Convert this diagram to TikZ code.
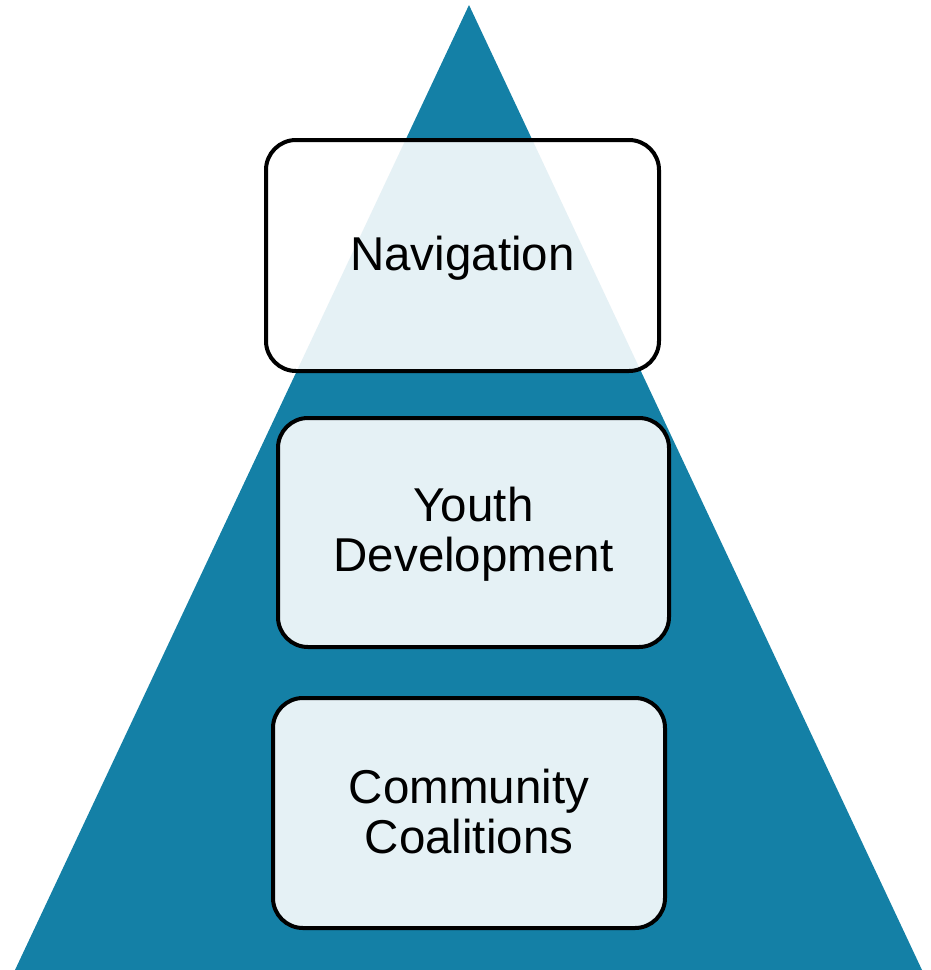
\documentclass[tikz,border=0pt]{standalone}
\usepackage{fontspec}
\setmainfont{Liberation Sans}
\definecolor{teal1}{HTML}{1480A6}
\begin{document}
\begin{tikzpicture}[x=1pt,y=-1pt,
  tierbox/.style={draw=black, line width=4pt, rounded corners=30pt, fill=white, fill opacity=0.89, inner sep=0pt},
  tiertext/.style={font=\fontsize{47.5}{50}\selectfont, align=center, inner sep=0pt}]
\useasboundingbox (0,0) rectangle (930,970);
\fill[teal1] (469,5) -- (922,970) -- (15,970) -- cycle;
\node[tierbox, minimum width=393pt, minimum height=231pt] (nav) at (462.5,255.5) {};
\node[tierbox, minimum width=391pt, minimum height=229pt] (youth) at (473.5,532.5) {};
\node[tierbox, minimum width=392pt, minimum height=230pt] (comm) at (469,813) {};
\node[tiertext] (navt) at ([yshift=-3pt]nav.center) {Navigation};
\node[tiertext] (youtht) at ([yshift=-2pt]youth.center) {Youth\\Development};
\node[tiertext] (commt) at ([yshift=1pt]comm.center) {Community\\Coalitions};
\end{tikzpicture}
\end{document}
